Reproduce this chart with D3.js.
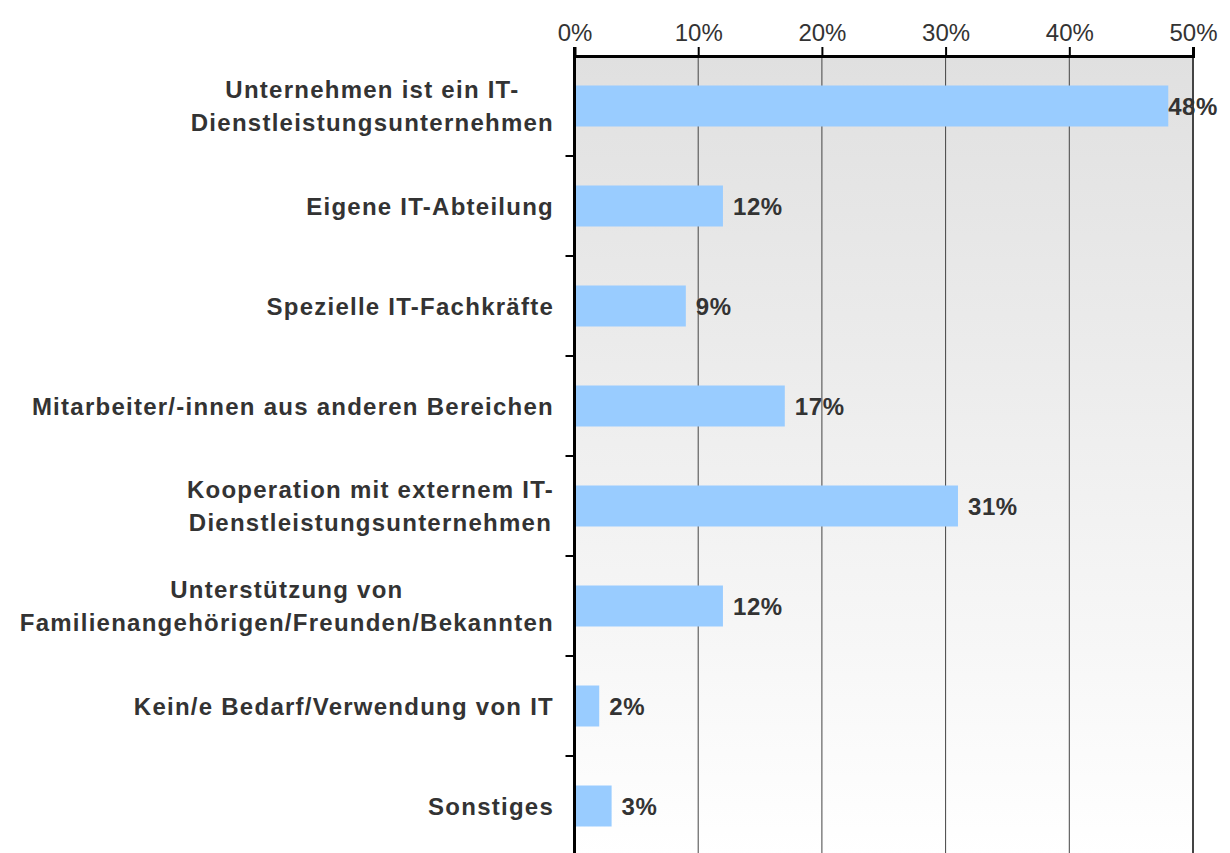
<!DOCTYPE html>
<html>
<head>
<meta charset="utf-8">
<script src="https://cdn.jsdelivr.net/npm/d3@7"></script>
<style>
  body { margin: 0; background: #fff; }
  svg { display: block; font-family: "Liberation Sans", Arial, sans-serif; }
</style>
</head>
<body>
<script>
const WIDTH  = 1230;
const HEIGHT = 853;
const MARGIN = { top: 56, right: 37, bottom: -3, left: 574.5 };
const LABEL_RIGHT = 554;

// categories (each label split into its lines) and values in percent
const categories = [
  ["Unternehmen ist ein IT-", "Dienstleistungsunternehmen"],
  ["Eigene IT-Abteilung"],
  ["Spezielle IT-Fachkräfte"],
  ["Mitarbeiter/-innen aus anderen Bereichen"],
  ["Kooperation mit externem IT-", "Dienstleistungsunternehmen"],
  ["Unterstützung von", "Familienangehörigen/Freunden/Bekannten"],
  ["Kein/e Bedarf/Verwendung von IT"],
  ["Sonstiges"]
];
const values    = [48, 12, 9, 17, 31, 12, 2, 3];
const tickVals  = [0, 10, 20, 30, 40, 50];

const svg = d3.select("body").append("svg")
    .attr("width", WIDTH)
    .attr("height", HEIGHT);

// background gradient of the plot area
const grad = svg.append("defs").append("linearGradient")
    .attr("id", "bg").attr("x1", 0).attr("y1", 0).attr("x2", 0).attr("y2", 1);
grad.append("stop").attr("offset", "0%").attr("stop-color", "#e0e0e0");
grad.append("stop").attr("offset", "100%").attr("stop-color", "#ffffff");

const x = d3.scaleLinear()
    .domain([0, 50])
    .range([MARGIN.left, WIDTH - MARGIN.right]);

const y = d3.scaleBand()
    .domain(d3.range(categories.length))
    .range([MARGIN.top, HEIGHT - MARGIN.bottom])
    .paddingInner(0.59)
    .paddingOuter(0.295);

const plotTop = MARGIN.top, plotBottom = HEIGHT - MARGIN.bottom;

svg.append("rect")
    .attr("x", x(0)).attr("y", plotTop)
    .attr("width", x(50) - x(0))
    .attr("height", plotBottom - plotTop)
    .attr("fill", "url(#bg)");

// vertical grid lines
svg.append("g")
  .selectAll("line")
  .data(tickVals.slice(1))
  .join("line")
    .attr("x1", d => x(d)).attr("x2", d => x(d))
    .attr("y1", plotTop).attr("y2", plotBottom)
    .attr("stroke", "#444")
    .attr("stroke-width", d => d === 50 ? 2 : 1);

// bars
svg.append("g")
  .selectAll("rect")
  .data(values)
  .join("rect")
    .attr("x", x(0))
    .attr("y", (d, i) => y(i))
    .attr("width", d => x(d) - x(0))
    .attr("height", y.bandwidth())
    .attr("fill", "#99ccff");

// top axis
const xAxis = svg.append("g")
    .attr("transform", "translate(0," + plotTop + ")")
    .call(d3.axisTop(x).tickValues(tickVals).tickFormat(d => d + "%").tickSize(9).tickPadding(6));
xAxis.select(".domain").attr("stroke", "#000").attr("stroke-width", 3);
xAxis.selectAll(".tick line").attr("stroke", "#000").attr("stroke-width", 2);
xAxis.selectAll(".tick text")
    .attr("fill", "#333")
    .style("font-size", "24px");

// left axis with ticks between categories
const left = svg.append("g");
left.append("line")
    .attr("x1", x(0)).attr("x2", x(0))
    .attr("y1", plotTop - 9).attr("y2", plotBottom)
    .attr("stroke", "#000").attr("stroke-width", 3);
left.selectAll("line.sep")
  .data(d3.range(1, categories.length))
  .join("line")
    .attr("class", "sep")
    .attr("x1", x(0) - 9).attr("x2", x(0))
    .attr("y1", i => y(i) - y.step() * y.paddingInner() / 2)
    .attr("y2", i => y(i) - y.step() * y.paddingInner() / 2)
    .attr("stroke", "#000").attr("stroke-width", 2);

// category labels: lines centred on each other, block right-aligned
const lineH = 33;
svg.append("g")
  .selectAll("text")
  .data(categories)
  .join("text")
    .attr("text-anchor", "middle")
    .attr("fill", "#333")
    .style("font-size", "24px")
    .style("font-weight", "bold")
    .style("letter-spacing", "1.25px")
    .each(function (lines, i) {
      const cy = y(i) + y.bandwidth() / 2;
      const t = d3.select(this);
      const spans = lines.map((l, k) => t.append("tspan")
          .attr("y", cy + (k - (lines.length - 1) / 2) * lineH + 8.5)
          .text(l));
      const maxW = d3.max(spans, s => s.node().getComputedTextLength());
      spans.forEach(s => s.attr("x", LABEL_RIGHT - maxW / 2));
    });

// value labels
svg.append("g")
  .selectAll("text")
  .data(values)
  .join("text")
    .attr("fill", "#333")
    .style("font-size", "24px")
    .style("font-weight", "bold")
    .style("letter-spacing", "0.6px")
    .attr("y", (d, i) => y(i) + y.bandwidth() / 2 + 8.5)
    .text(d => d + "%")
    .attr("x", function (d) {
      const w = this.getComputedTextLength();
      return Math.min(x(d) + 10, WIDTH - 12 - w);
    });
</script>
</body>
</html>
